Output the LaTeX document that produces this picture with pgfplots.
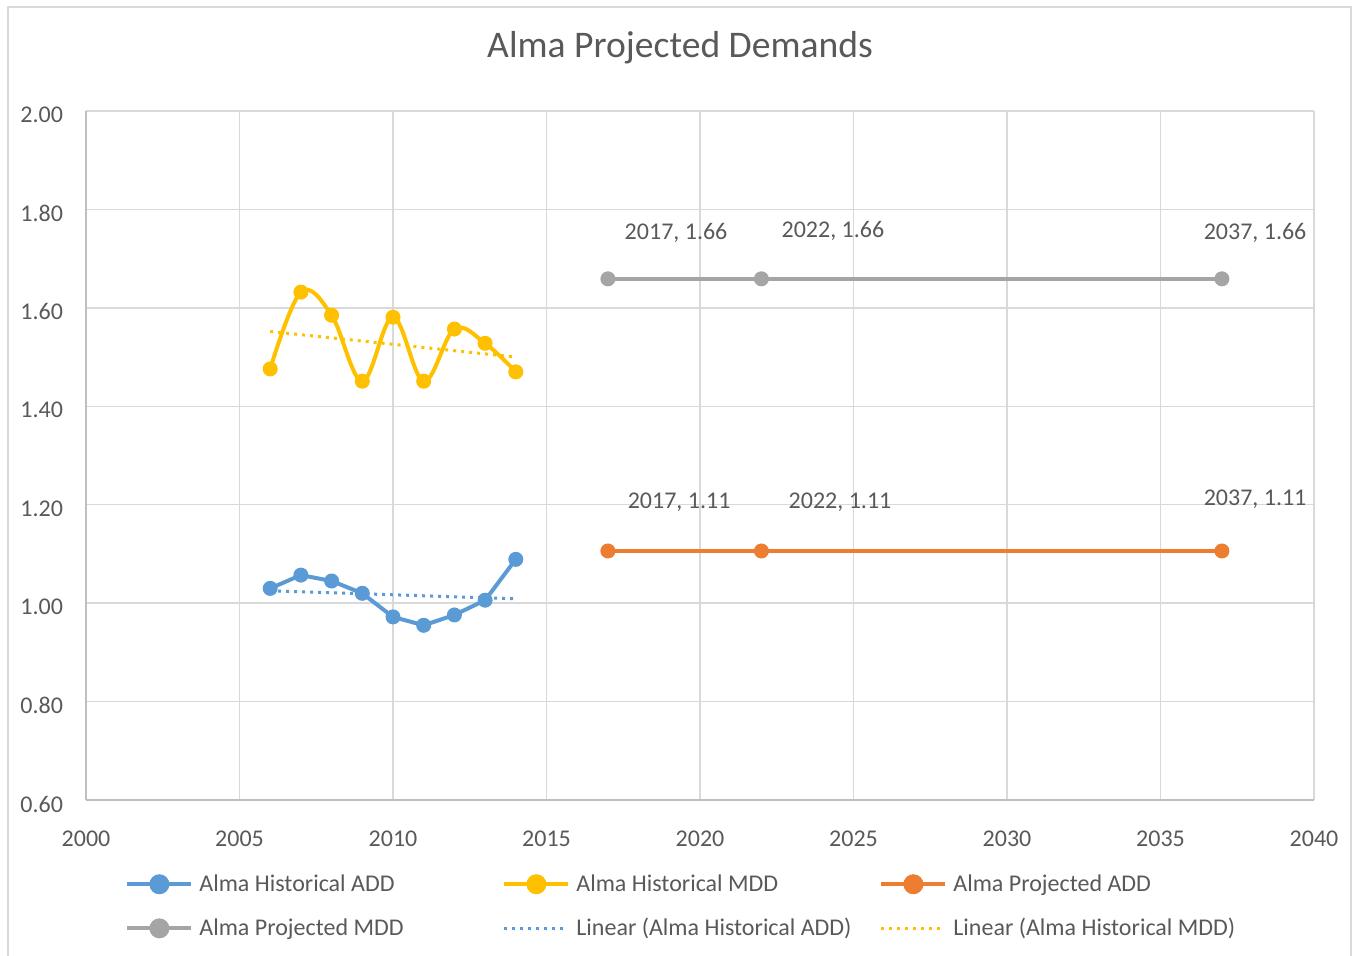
\documentclass[border=0pt]{standalone}
\usepackage{pgfplots}
\pgfplotsset{compat=1.18}
\usepackage{fontspec}
\setmainfont{Carlito}
\definecolor{txt}{HTML}{595959}
\definecolor{gridc}{HTML}{D9D9D9}
\definecolor{axc}{HTML}{BFBFBF}
\definecolor{cblue}{HTML}{5B9BD5}
\definecolor{cyel}{HTML}{FFC000}
\definecolor{cora}{HTML}{ED7D31}
\definecolor{cgray}{HTML}{A5A5A5}
\newcommand{\fs}{\fontsize{12pt}{14pt}\selectfont}
\begin{document}
\begin{tikzpicture}
\useasboundingbox (-43pt,-77.5pt) rectangle (633.5pt,400pt);
\draw[gridc, line width=0.75pt] (-39pt,-80pt) -- (-39pt,396.5pt) -- (632.5pt,396.5pt) -- (632.5pt,-80pt);
\begin{axis}[
  scale only axis, width=614pt, height=344.5pt,
  xmin=2000, xmax=2040, ymin=0.6, ymax=2.0,
  xtick={2000,2005,2010,2015,2020,2025,2030,2035,2040},
  ytick={0.6,0.8,1.0,1.2,1.4,1.6,1.8,2.0},
  /pgf/number format/assume math mode=true,
  xticklabel style={font=\fs, text=txt, /pgf/number format/1000 sep={}, yshift=-12pt},
  yticklabel style={font=\fs, text=txt, /pgf/number format/fixed, /pgf/number format/fixed zerofill, /pgf/number format/precision=2, xshift=-8pt, yshift=-2pt},
  grid=major, major grid style={draw=gridc, line width=0.75pt},
  axis lines*=left, axis line style={-, draw=axc, line width=0.75pt},
  major tick length=0pt,
  legend columns=3,
  legend style={at={(19.5pt,-35pt)}, anchor=north west, draw=none, fill=none, inner sep=0pt,
     font=\fs, text=txt, row sep=8pt, /tikz/every even column/.append style={column sep=0pt}},
  legend cell align=left,
  legend image code/.code={\draw[mark repeat=2,mark phase=2,#1,mark size=4.75pt] plot coordinates {(0pt,0pt) (16pt,0pt) (32pt,0pt)};},
]
\addplot[cblue, line width=2pt, mark=*, mark size=3.5pt, mark options={solid, line width=0.5pt}] coordinates {
 (2006,1.030) (2007,1.057) (2008,1.045) (2009,1.020) (2010,0.972) (2011,0.955) (2012,0.976) (2013,1.006) (2014,1.089)};
\addlegendentry{\makebox[150.5pt][l]{\hspace{1pt}Alma Historical ADD}}
\addplot[cyel, line width=2pt, smooth, tension=0.6, mark=*, mark size=3.5pt, mark options={solid, line width=0.5pt}] coordinates {
 (2006,1.476) (2007,1.632) (2008,1.585) (2009,1.451) (2010,1.581) (2011,1.451) (2012,1.557) (2013,1.528) (2014,1.470)};
\addlegendentry{\makebox[150.5pt][l]{\hspace{1pt}Alma Historical MDD}}
\addplot[cora, line width=2pt, mark=*, mark size=3.5pt, mark options={solid, line width=0.5pt}] coordinates {
 (2017,1.106) (2022,1.106) (2037,1.106)};
\addlegendentry{\makebox[150.5pt][l]{\hspace{1pt}Alma Projected ADD}}
\addplot[cgray, line width=2pt, mark=*, mark size=3.5pt, mark options={solid, line width=0.5pt}] coordinates {
 (2017,1.659) (2022,1.659) (2037,1.659)};
\addlegendentry{\makebox[150.5pt][l]{\hspace{1pt}Alma Projected MDD}}
\addplot[cblue, line width=1.5pt, dash pattern=on 1.5pt off 2.5pt] coordinates {(2006,1.025) (2014,1.009)};
\addlegendentry{\makebox[150.5pt][l]{\hspace{1pt}Linear (Alma Historical ADD)}}
\addplot[cyel, line width=1.5pt, dash pattern=on 1.5pt off 2.5pt] coordinates {(2006,1.552) (2014,1.500)};
\addlegendentry{\makebox[150.5pt][l]{\hspace{1pt}Linear (Alma Historical MDD)}}
\node[font=\fs, text=txt] at (axis cs:2019.22,1.752) {2017, 1.66};
\node[font=\fs, text=txt] at (axis cs:2024.33,1.757) {2022, 1.66};
\node[font=\fs, text=txt] at (axis cs:2038.08,1.752) {2037, 1.66};
\node[font=\fs, text=txt] at (axis cs:2019.32,1.205) {2017, 1.11};
\node[font=\fs, text=txt] at (axis cs:2024.56,1.205) {2022, 1.11};
\node[font=\fs, text=txt] at (axis cs:2038.08,1.211) {2037, 1.11};
\end{axis}
\node[font=\fontsize{18.8pt}{22pt}\selectfont, text=txt] at (297pt,376pt) {Alma Projected Demands};
\end{tikzpicture}
\end{document}
